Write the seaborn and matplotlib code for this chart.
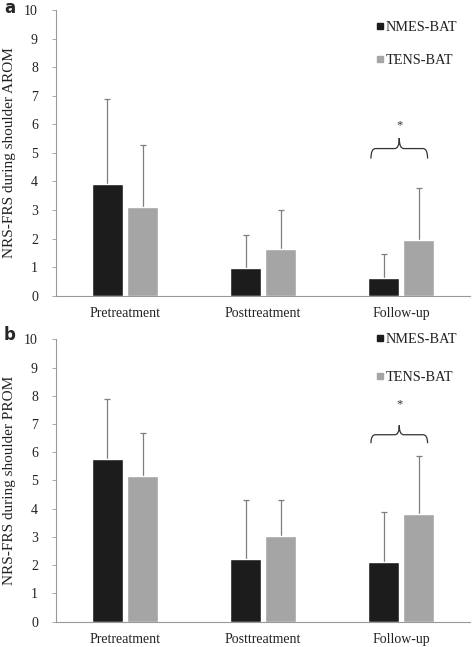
import numpy as np
import pandas as pd
import matplotlib
matplotlib.use('Agg')
import matplotlib.pyplot as plt
import seaborn as sns
from matplotlib.path import Path
from matplotlib.patches import PathPatch
from matplotlib.lines import Line2D

# data
phases = ['Pretreatment', 'Posttreatment', 'Follow-up']
groups = ['NMES-BAT', 'TENS-BAT']

arom_nmes = [3.9, 0.96, 0.63]
arom_tens = [3.1, 1.62, 1.95]
arom_nmes_sd = [3.0, 1.17, 0.83]
arom_tens_sd = [2.17, 1.39, 1.83]

prom_nmes = [5.77, 2.23, 2.10]
prom_tens = [5.15, 3.02, 3.82]
prom_nmes_sd = [2.1, 2.08, 1.8]
prom_tens_sd = [1.53, 1.29, 2.05]

colors = {'NMES-BAT': '#1c1c1c', 'TENS-BAT': '#a5a5a5'}

sns.set_style('white')
plt.rcParams['font.family'] = ['Liberation Serif', 'DejaVu Serif']

fig = plt.figure(figsize=(4.72, 6.47), dpi=100)
ax_a = fig.add_axes([0.1186, 0.543, 0.878, 0.4415])
ax_b = fig.add_axes([0.1186, 0.0391, 0.878, 0.4365])


def brace(ax, xl, xr, ybot, ymid, ytop):
    xc = (xl + xr) / 2
    d = (xr - xl) * 0.08
    verts = [(xl, ybot), (xl, ymid), (xl + d, ymid), (xl + d, ymid),
             (xc - d, ymid), (xc, ymid), (xc, ytop),
             (xc, ymid), (xc + d, ymid), (xr - d, ymid),
             (xr - d, ymid), (xr, ymid), (xr, ybot)]
    codes = [Path.MOVETO, Path.CURVE3, Path.CURVE3, Path.LINETO,
             Path.LINETO, Path.CURVE3, Path.CURVE3,
             Path.CURVE3, Path.CURVE3, Path.LINETO,
             Path.LINETO, Path.CURVE3, Path.CURVE3]
    ax.add_patch(PathPatch(Path(verts, codes), fill=False, lw=0.9,
                           edgecolor='#333333'))


def panel(ax, nmes, tens, nmes_sd, tens_sd, ylabel, letter, brace_y, star_y,
          leg_y, leg_sp, letter_y):
    df = pd.DataFrame({
        'phase': phases * 2,
        'group': [groups[0]] * 3 + [groups[1]] * 3,
        'value': nmes + tens,
        'sd': nmes_sd + tens_sd,
    })
    sns.barplot(data=df, x='phase', y='value', hue='group', order=phases,
                hue_order=groups, palette=colors, width=0.51, gap=0.12,
                errorbar=None, saturation=1, ax=ax, legend=False, zorder=2)
    # upper error bars only, cap at the top
    bars = ax.patches[:6]
    xs = np.array([b.get_x() + b.get_width() / 2 for b in bars])
    ys = np.array([b.get_height() for b in bars])
    tops = ys + np.array(df['sd'])
    ax.vlines(xs, ys, tops, color='#7f7f7f', lw=0.9, zorder=1)
    ax.plot(xs, tops, ls='none', marker='_', markersize=5, mew=0.9,
            color='#7f7f7f', zorder=1)

    ax.set_ylim(0, 10)
    ax.set_xlim(-0.5, 2.5)
    ax.set_yticks(range(0, 11))
    ax.set_xlabel('')
    ax.set_ylabel(ylabel, fontsize=11, color='#222222', labelpad=6)
    ax.tick_params(axis='y', length=3, width=0.6, color='#999999', labelsize=10,
                   labelcolor='#222222', pad=10, direction='out', left=True)
    ax.tick_params(axis='x', length=0, labelsize=10, labelcolor='#222222', pad=8)
    for s in ['top', 'right']:
        ax.spines[s].set_visible(False)
    for s in ['left', 'bottom']:
        ax.spines[s].set_color('#999999')
        ax.spines[s].set_linewidth(0.8)

    brace(ax, 1.78, 2.19, brace_y[0], brace_y[1], brace_y[2])
    ax.text(1.985, star_y, '*', ha='center', va='center', fontsize=9, color='#333333')

    handles = [Line2D([], [], marker='s', ls='none', markersize=5,
                      color=colors[g], label=g) for g in groups]
    ax.legend(handles=handles, loc='upper left', bbox_to_anchor=(0.746, leg_y),
              frameon=False, fontsize=10.3, handletextpad=0.05, handlelength=0.7,
              labelspacing=leg_sp, labelcolor='#222222', borderpad=0.2)
    ax.text(-0.126, letter_y, letter, transform=ax.transAxes, fontsize=12,
            fontweight='bold', family='DejaVu Sans', va='baseline', ha='left')


panel(ax_a, arom_nmes, arom_tens, arom_nmes_sd, arom_tens_sd,
      'NRS-FRS during shoulder AROM', 'a', (4.8, 5.15, 5.52), 5.95,
      0.997, 1.4, 0.99)
panel(ax_b, prom_nmes, prom_tens, prom_nmes_sd, prom_tens_sd,
      'NRS-FRS during shoulder PROM', 'b', (6.32, 6.62, 6.95), 7.7,
      1.058, 1.75, 0.998)

fig.savefig('out.png', dpi=100)
